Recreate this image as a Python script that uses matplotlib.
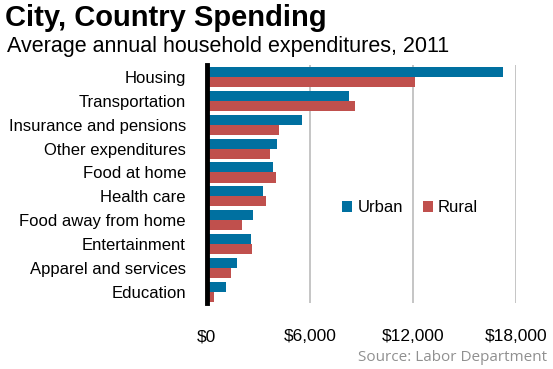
import matplotlib
matplotlib.use("Agg")
import matplotlib.pyplot as plt
import numpy as np

# ── Data ──────────────────────────────────────────────────────────────────────
categories = ["Housing", "Transportation", "Insurance and pensions",
              "Other expenditures", "Food at home", "Health care",
              "Food away from home", "Entertainment",
              "Apparel and services", "Education"]
urban = [17250, 8270, 5530, 4080, 3850, 3260, 2680, 2560, 1750, 1110]
rural = [12120, 8620, 4190, 3670, 4020, 3440, 2040, 2620, 1400, 410]
xticks = [0, 6000, 12000, 18000]
xtick_labels = ["$0", "$6,000", "$12,000", "$18,000"]

BLUE = "#0070A0"
RED = "#C0504D"

plt.rcParams["font.family"] = ["Liberation Sans", "DejaVu Sans"]

fig = plt.figure(figsize=(5.53, 3.69), dpi=100)
ax = fig.add_axes([0.374, 0.179, 0.559, 0.645])

y = np.arange(len(categories))
h = 0.42
ax.barh(y - h / 2, urban, height=h, color=BLUE, label="Urban", zorder=3)
ax.barh(y + h / 2, rural, height=h, color=RED, label="Rural", zorder=3)

ax.set_ylim(len(categories) - 0.54, -0.5)
ax.set_xlim(0, 18000)
ax.set_yticks(y)
ax.set_yticklabels(categories, fontsize=12)
ax.set_xticks(xticks)
ax.set_xticklabels(xtick_labels, fontsize=12.5)
ax.tick_params(length=0)
ax.tick_params(axis="y", pad=15)
ax.tick_params(axis="x", pad=19)
ax.grid(axis="x", color="#BBBBBB", linewidth=1.2, zorder=0)

for s in ["top", "right", "bottom"]:
    ax.spines[s].set_visible(False)
ax.spines["left"].set_linewidth(3.5)
ax.spines["left"].set_color("black")
ax.spines["left"].set_zorder(4)

ax.legend(loc="center left", bbox_to_anchor=(0.39, 0.40), ncol=2,
          frameon=False, fontsize=12, handlelength=0.6, handleheight=0.6,
          handletextpad=0.3, columnspacing=1.2)

fig.text(0.009, 0.93, "City, Country Spending", fontsize=21,
         fontweight="bold", ha="left", va="baseline")
fig.text(0.012, 0.86, "Average annual household expenditures, 2011",
         fontsize=15.5, ha="left", va="baseline")
fig.text(0.99, 0.022, "Source: Labor Department", fontsize=11,
         color="#909090", ha="right", va="baseline",
         family=["Open Sans", "DejaVu Sans"])

fig.savefig("out.png", dpi=100)
